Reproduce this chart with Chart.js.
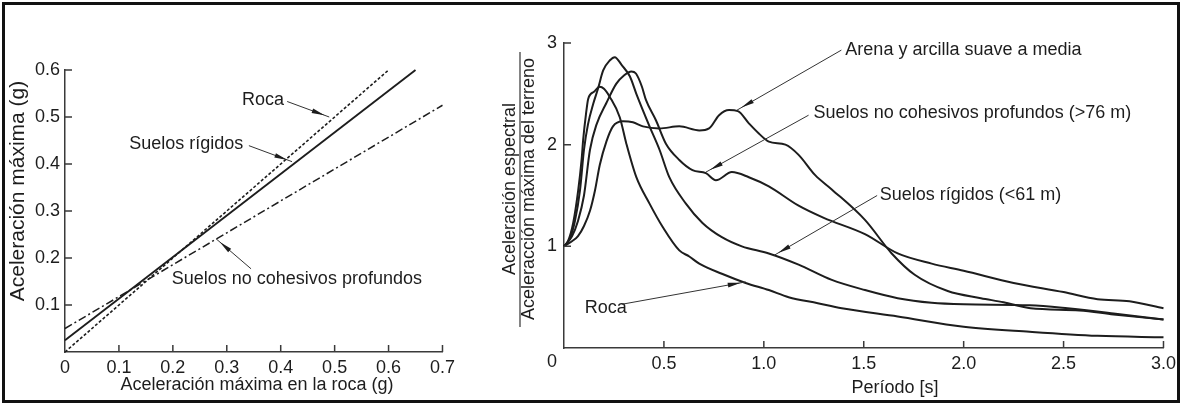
<!DOCTYPE html>
<html lang="es">
<head>
<meta charset="UTF-8">
<title>Aceleración máxima y espectros normalizados</title>
<script src="https://cdn.jsdelivr.net/npm/chart.js"></script>
<style>
  html, body { margin: 0; padding: 0; background: #fff; }
  canvas { position: absolute; top: 0; }
  #pga { left: 0; }
  #spec { left: 460px; }
  #frame { position: absolute; left: 2px; top: 2px; width: 1172px; height: 395px; border: 3px solid #111; pointer-events: none; }
</style>
</head>
<body>
<canvas id="pga" width="460" height="405"></canvas>
<canvas id="spec" width="721" height="405"></canvas>
<div id="frame"></div>
<script>
// ---- left: peak ground acceleration vs rock acceleration (g) ----
const pgaRoca = [0, 0.6];
const sitioRoca = [0, 0.6];
const pgaRigidos = [0, 0.65];
const sitioRigidos = [0.025, 0.6];
const pgaNoCoh = [0, 0.7];
const sitioNoCoh = [0.05, 0.525];

// ---- right: normalised spectral shapes ----
const rocaPeriodo = [0, 0.02, 0.046, 0.071, 0.088, 0.096, 0.11, 0.121, 0.15, 0.179, 0.2, 0.229, 0.279, 0.312, 0.362, 0.428, 0.494, 0.577, 0.627, 0.677, 0.79, 0.909, 1.025, 1.124, 1.27, 1.39, 1.67, 2.0, 2.33, 2.67, 3.0];
const rocaSa = [1.0, 1.05, 1.23, 1.55, 1.85, 2.05, 2.3, 2.45, 2.52, 2.57, 2.55, 2.47, 2.27, 2.01, 1.68, 1.42, 1.19, 0.96, 0.9, 0.83, 0.73, 0.64, 0.57, 0.5, 0.44, 0.39, 0.31, 0.21, 0.16, 0.12, 0.105];

const rigidosPeriodo = [0, 0.03, 0.055, 0.08, 0.1, 0.12, 0.146, 0.17, 0.196, 0.23, 0.254, 0.29, 0.33, 0.362, 0.428, 0.478, 0.527, 0.61, 0.693, 0.79, 0.89, 1.025, 1.174, 1.34, 1.506, 1.67, 1.84, 2.0, 2.33, 2.52, 2.75, 3.0];
const rigidosSa = [1.0, 1.08, 1.25, 1.55, 1.95, 2.2, 2.4, 2.55, 2.73, 2.83, 2.86, 2.78, 2.67, 2.5, 2.18, 1.95, 1.68, 1.42, 1.23, 1.09, 1.0, 0.93, 0.82, 0.67, 0.57, 0.49, 0.445, 0.43, 0.42, 0.39, 0.34, 0.28];

const noCohPeriodo = [0, 0.04, 0.07, 0.1, 0.13, 0.163, 0.212, 0.262, 0.3, 0.337, 0.36, 0.39, 0.41, 0.46, 0.51, 0.577, 0.643, 0.71, 0.76, 0.84, 0.925, 1.025, 1.174, 1.3, 1.506, 1.67, 1.84, 2.0, 2.25, 2.5, 2.67, 2.83, 3.0];
const noCohSa = [1.0, 1.1, 1.25, 1.5, 1.95, 2.2, 2.41, 2.6, 2.68, 2.72, 2.7, 2.57, 2.44, 2.24, 2.01, 1.85, 1.75, 1.72, 1.65, 1.73, 1.68, 1.59, 1.4, 1.28, 1.12, 0.93, 0.83, 0.76, 0.64, 0.55, 0.48, 0.46, 0.39];

const arenaPeriodo = [0, 0.04, 0.07, 0.1, 0.13, 0.155, 0.179, 0.212, 0.245, 0.295, 0.345, 0.395, 0.478, 0.577, 0.677, 0.726, 0.776, 0.826, 0.87, 0.925, 0.975, 1.025, 1.108, 1.174, 1.257, 1.34, 1.506, 1.64, 1.755, 1.92, 2.086, 2.2, 2.335, 2.58, 2.75, 3.0];
const arenaSa = [1.0, 1.05, 1.1, 1.2, 1.35, 1.55, 1.8, 2.03, 2.18, 2.23, 2.22, 2.18, 2.16, 2.18, 2.14, 2.16, 2.29, 2.34, 2.33, 2.21, 2.11, 2.03, 2.0, 1.9, 1.7, 1.56, 1.26, 0.93, 0.72, 0.56, 0.49, 0.45, 0.39, 0.37, 0.33, 0.28];

// label text + where it sits / where its leader points, in data units
const notasPga = [
  { text: 'Roca', at: [0.328, 0.537], from: [0.412, 0.533], to: [0.49, 0.5] },
  { text: 'Suelos rígidos', at: [0.119, 0.443], from: [0.341, 0.439], to: [0.421, 0.405] },
  { text: 'Suelos no cohesivos profundos', at: [0.198, 0.155], from: [0.345, 0.177], to: [0.28, 0.241] }
];
const notasSpec = [
  { text: 'Arena y arcilla suave a media', at: [1.408, 2.93], from: [1.388, 2.93], to: [0.866, 2.34] },
  { text: 'Suelos no cohesivos profundos (>76 m)', at: [1.249, 2.31], from: [1.224, 2.29], to: [0.71, 1.73] },
  { text: 'Suelos rígidos (<61 m)', at: [1.58, 1.5], from: [1.567, 1.5], to: [1.05, 0.91] },
  { text: 'Roca', at: [0.104, 0.39], from: [0.289, 0.43], to: [0.909, 0.65] }
];

const INK = '#1d1d1d';
const FONT = '"Liberation Sans", Arial, sans-serif';
Chart.defaults.font.family = FONT;
Chart.defaults.color = INK;

const pts = (xs, ys) => xs.map((v, i) => ({ x: v, y: ys[i] }));

function inwardTicks(chart, len) {
  const { ctx, chartArea: a, scales: { x, y } } = chart;
  ctx.save();
  ctx.strokeStyle = '#3a3a3a';
  ctx.lineWidth = 1.5;
  ctx.beginPath();
  x.ticks.forEach(t => {
    if (t.value === 0) return;
    const px = x.getPixelForValue(t.value);
    ctx.moveTo(px, a.bottom); ctx.lineTo(px, a.bottom - len);
  });
  y.ticks.forEach(t => {
    if (t.value === 0) return;
    const py = y.getPixelForValue(t.value);
    ctx.moveTo(a.left, py); ctx.lineTo(a.left + len, py);
  });
  ctx.stroke();
  ctx.restore();
}

function drawNotes(chart, notes) {
  const { ctx, scales: { x, y } } = chart;
  ctx.save();
  ctx.font = '18px ' + FONT;
  ctx.fillStyle = INK;
  ctx.strokeStyle = '#333';
  ctx.lineWidth = 1;
  ctx.textBaseline = 'middle';
  ctx.textAlign = 'left';
  notes.forEach(n => {
    ctx.fillText(n.text, x.getPixelForValue(n.at[0]), y.getPixelForValue(n.at[1]));
    const x1 = x.getPixelForValue(n.from[0]), y1 = y.getPixelForValue(n.from[1]);
    const x2 = x.getPixelForValue(n.to[0]), y2 = y.getPixelForValue(n.to[1]);
    ctx.beginPath(); ctx.moveTo(x1, y1); ctx.lineTo(x2, y2); ctx.stroke();
    // slim arrowhead a little short of the curve
    const ang = Math.atan2(y2 - y1, x2 - x1), c = Math.cos(ang), s = Math.sin(ang);
    const tx = x2 - 5 * c, ty = y2 - 5 * s, bx = tx - 13 * c, by = ty - 13 * s;
    ctx.beginPath();
    ctx.moveTo(tx, ty);
    ctx.lineTo(bx - 2.3 * s, by + 2.3 * c);
    ctx.lineTo(bx + 2.3 * s, by - 2.3 * c);
    ctx.closePath();
    ctx.fill();
  });
  ctx.restore();
}

function vText(ctx, text, cx, cy) {
  ctx.save();
  ctx.translate(cx, cy);
  ctx.rotate(-Math.PI / 2);
  ctx.textAlign = 'center';
  ctx.textBaseline = 'middle';
  ctx.fillText(text, 0, 0);
  ctx.restore();
}

const baseLine = { showLine: true, pointRadius: 0, borderColor: INK, fill: false, clip: false };
const curve = { ...baseLine, borderWidth: 2, cubicInterpolationMode: 'monotone' };
const hiddenGrid = { display: false, tickLength: 0 };

new Chart(document.getElementById('pga'), {
  type: 'scatter',
  data: {
    datasets: [
      { ...baseLine, label: 'Roca', data: pts(pgaRoca, sitioRoca), borderWidth: 1.6, borderDash: [3, 2] },
      { ...baseLine, label: 'Suelos rígidos', data: pts(pgaRigidos, sitioRigidos), borderWidth: 1.9 },
      { ...baseLine, label: 'Suelos no cohesivos profundos', data: pts(pgaNoCoh, sitioNoCoh), borderWidth: 1.5, borderDash: [8, 3, 2, 3] }
    ]
  },
  options: {
    responsive: false,
    animation: false,
    layout: { padding: { left: 0, right: 17, top: 70, bottom: 0 } },
    plugins: { legend: { display: false }, tooltip: { enabled: false } },
    scales: {
      x: {
        type: 'linear', min: 0, max: 0.7,
        grid: hiddenGrid,
        border: { display: true, color: '#3a3a3a', width: 1.5 },
        ticks: { stepSize: 0.1, autoSkip: false, maxRotation: 0, padding: 5, font: { size: 18 },
                 callback: v => v === 0 ? '0' : v.toFixed(1) },
        afterFit: s => { s.height = 53; }
      },
      y: {
        type: 'linear', min: 0, max: 0.6,
        grid: hiddenGrid,
        border: { display: true, color: '#3a3a3a', width: 1.5 },
        ticks: { stepSize: 0.1, autoSkip: false, padding: 5, font: { size: 18 },
                 callback: v => v === 0 ? '' : v.toFixed(1) },
        afterFit: s => { s.width = 65; }
      }
    }
  },
  plugins: [{
    id: 'decor',
    afterDatasetsDraw(chart) {
      const { ctx } = chart;
      inwardTicks(chart, 7);
      drawNotes(chart, notasPga);
      ctx.save();
      ctx.fillStyle = INK;
      ctx.font = '21px ' + FONT;
      vText(ctx, 'Aceleración máxima (g)', 18, 191);
      ctx.font = '18px ' + FONT;
      ctx.textAlign = 'center';
      ctx.textBaseline = 'middle';
      ctx.fillText('Aceleración máxima en la roca (g)', 257, 385);
      ctx.restore();
    }
  }]
});

new Chart(document.getElementById('spec'), {
  type: 'scatter',
  data: {
    datasets: [
      { ...curve, label: 'Roca', data: pts(rocaPeriodo, rocaSa) },
      { ...curve, label: 'Suelos rígidos (<61 m)', data: pts(rigidosPeriodo, rigidosSa) },
      { ...curve, label: 'Suelos no cohesivos profundos (>76 m)', data: pts(noCohPeriodo, noCohSa) },
      { ...curve, label: 'Arena y arcilla suave a media', data: pts(arenaPeriodo, arenaSa) }
    ]
  },
  options: {
    responsive: false,
    animation: false,
    layout: { padding: { left: 0, right: 14, top: 43, bottom: 0 } },
    plugins: { legend: { display: false }, tooltip: { enabled: false } },
    scales: {
      x: {
        type: 'linear', min: 0, max: 3,
        grid: hiddenGrid,
        border: { display: true, color: '#3a3a3a', width: 1.5 },
        ticks: { stepSize: 0.5, autoSkip: false, maxRotation: 0, padding: 5, font: { size: 18 },
                 callback: v => v === 0 ? '' : v.toFixed(1) },
        afterFit: s => { s.height = 57; }
      },
      y: {
        type: 'linear', min: 0, max: 3,
        grid: hiddenGrid,
        border: { display: true, color: '#3a3a3a', width: 1.5 },
        ticks: { stepSize: 1, autoSkip: false, padding: 7, font: { size: 18 },
                 callback: v => v === 0 ? '' : String(v) },
        afterFit: s => { s.width = 104; }
      }
    }
  },
  plugins: [{
    id: 'decor',
    afterDatasetsDraw(chart) {
      const { ctx, chartArea: a } = chart;
      inwardTicks(chart, 7);
      drawNotes(chart, notasSpec);
      ctx.save();
      ctx.fillStyle = INK;
      ctx.font = '18px ' + FONT;
      ctx.textAlign = 'center';
      ctx.textBaseline = 'middle';
      ctx.fillText('0', a.left - 12, a.bottom + 14);
      vText(ctx, 'Aceleración espectral', 50.5, 189);
      vText(ctx, 'Aceleracción máxima del terreno', 69, 189);
      ctx.strokeStyle = '#333';
      ctx.lineWidth = 1.2;
      ctx.beginPath(); ctx.moveTo(60, 52); ctx.lineTo(60, 327); ctx.stroke();
      ctx.fillText('Período [s]', 435, 388);
      ctx.restore();
    }
  }]
});
</script>
</body>
</html>
